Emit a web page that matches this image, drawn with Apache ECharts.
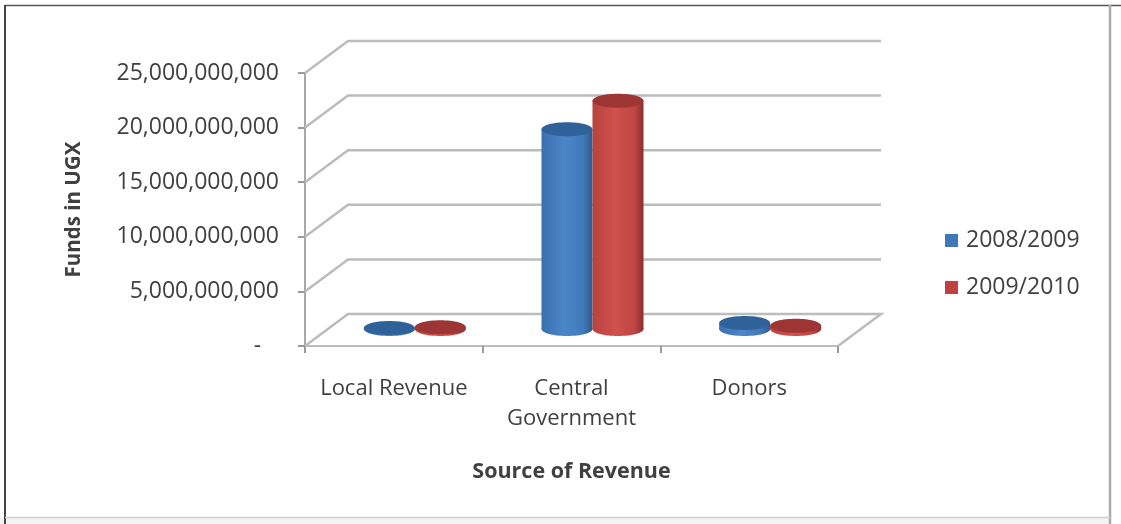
<!DOCTYPE html>
<html>
<head>
<meta charset="utf-8">
<style>html,body{margin:0;padding:0;background:#fff}#c{width:1121px;height:524px}</style>
<script src="https://cdn.jsdelivr.net/npm/echarts@6/dist/echarts.min.js"></script>
</head>
<body>
<div id="c"></div>
<script>
const categories = ['Local Revenue', 'Central Government', 'Donors'];
const series2008 = [100000000, 18300000000, 550000000];
const series2009 = [150000000, 20900000000, 300000000];
const yTicks = [0, 5000000000, 10000000000, 15000000000, 20000000000, 25000000000];
const FONT = '"Open Sans", sans-serif';
const TEXT = '#404040';
const WALL = '#bcbcbc';
const DEPTH = [43, -32];
const MID = [21, -17];
const RX = 25.5, RY = 7;

function cylinder(params, api, side, stops, topColor) {
  const cat = api.value(0), val = api.value(1);
  const t = api.coord([cat, val]);
  const b = api.coord([cat, 0]);
  const cx = t[0] + MID[0] + side * RX;
  const ty = t[1] + MID[1], by = b[1] + MID[1];
  const grad = {type: 'linear', x: 0, y: 0, x2: 1, y2: 0, colorStops: stops};
  return {
    type: 'group',
    children: [
      {type: 'rect', shape: {x: cx - RX, y: ty, width: RX * 2, height: by - ty}, style: {fill: grad}},
      {type: 'ellipse', shape: {cx: cx, cy: by, rx: RX, ry: RY}, style: {fill: grad}},
      {type: 'ellipse', shape: {cx: cx, cy: ty, rx: RX, ry: RY}, style: {fill: topColor}}
    ]
  };
}

const blueStops = [{offset: 0, color: '#3a70ae'}, {offset: 0.45, color: '#4a86c8'}, {offset: 0.82, color: '#4079b8'}, {offset: 1, color: '#2c5a8e'}];
const redStops = [{offset: 0, color: '#b8423f'}, {offset: 0.45, color: '#d0514e'}, {offset: 0.82, color: '#bf4643'}, {offset: 1, color: '#8c2f2d'}];

const chart = echarts.init(document.getElementById('c'), null, {renderer: 'canvas'});
chart.setOption({
  animation: false,
  backgroundColor: '#ffffff',
  grid: {left: 305, top: 73, width: 533, height: 273, containLabel: false},
  legend: {
    data: ['2008/2009', '2009/2010'],
    orient: 'vertical', left: 940, top: 224, itemWidth: 13, itemHeight: 13, itemGap: 24,
    icon: 'rect', selectedMode: false,
    textStyle: {fontFamily: FONT, fontSize: 23, color: TEXT, padding: [0, 0, 0, 3]}
  },
  xAxis: {
    type: 'category', data: categories,
    axisLine: {lineStyle: {color: WALL, width: 2}},
    axisTick: {show: true, alignWithLabel: false, length: 7, lineStyle: {color: '#9a9a9a', width: 2}},
    axisLabel: {
      fontFamily: FONT, fontSize: 22, color: TEXT, margin: 28, lineHeight: 30, interval: 0,
      formatter: v => v.replace('Central ', 'Central\n')
    },
    name: 'Source of Revenue', nameLocation: 'middle', nameGap: 115,
    nameTextStyle: {fontFamily: FONT, fontSize: 21.5, fontWeight: 'bold', color: TEXT}
  },
  yAxis: {
    type: 'value', min: 0, max: 25000000000, interval: 5000000000,
    axisLine: {show: true, lineStyle: {color: '#a8a8a8', width: 2}},
    axisTick: {show: true, length: 7, lineStyle: {color: '#9a9a9a', width: 2}},
    splitLine: {show: false},
    axisLabel: {
      fontFamily: FONT, fontSize: 23, color: TEXT, margin: 26, padding: [4, 0, 0, 0],
      formatter: v => v === 0 ? '-   ' : v.toLocaleString('en-US')
    },
    name: 'Funds in UGX', nameLocation: 'middle', nameGap: 220, nameRotate: 90,
    nameTextStyle: {fontFamily: FONT, fontSize: 20.5, fontWeight: 'bold', color: TEXT}
  },
  graphic: [
    {type: 'rect', silent: true, z: -1, shape: {x: 0, y: 518, width: 1110, height: 6}, style: {fill: '#f3f3f3'}},
    {type: 'line', silent: true, shape: {x1: 5, y1: 5.5, x2: 1121, y2: 5.5}, style: {stroke: '#555', lineWidth: 1.5}},
    {type: 'line', silent: true, shape: {x1: 5, y1: 5, x2: 5, y2: 524}, style: {stroke: '#444', lineWidth: 2}},
    {type: 'line', silent: true, shape: {x1: 1110, y1: 5, x2: 1110, y2: 524}, style: {stroke: '#aaa', lineWidth: 2.5}},
    {type: 'line', silent: true, shape: {x1: 5, y1: 517.5, x2: 1110, y2: 517.5}, style: {stroke: '#d0d0d0', lineWidth: 1.5}}
  ],
  series: [
    {
      type: 'custom', name: 'walls', silent: true, z: 1,
      data: yTicks.map(v => [0, v]),
      encode: {x: 0, y: 1},
      clip: false,
      renderItem: (params, api) => {
        const y = api.coord([0, api.value(1)])[1];
        const L = params.coordSys.x, W = params.coordSys.width;
        const pts = [[L, y], [L + DEPTH[0], y + DEPTH[1]], [L + W + DEPTH[0], y + DEPTH[1]]];
        if (api.value(1) === 0) pts.push([L + W, y]);
        return {type: 'polyline', shape: {points: pts}, style: {stroke: WALL, lineWidth: 2.5, fill: null}};
      }
    },
    {
      type: 'custom', name: '2008/2009', z: 3, clip: false,
      itemStyle: {color: '#3f77b8'},
      data: series2008.map((v, i) => [i, v]),
      encode: {x: 0, y: 1},
      renderItem: (params, api) => cylinder(params, api, -1, blueStops, '#2f6299')
    },
    {
      type: 'custom', name: '2009/2010', z: 4, clip: false,
      itemStyle: {color: '#c0413e'},
      data: series2009.map((v, i) => [i, v]),
      encode: {x: 0, y: 1},
      renderItem: (params, api) => cylinder(params, api, 1, redStops, '#9c3533')
    }
  ]
});
</script>
</body>
</html>
